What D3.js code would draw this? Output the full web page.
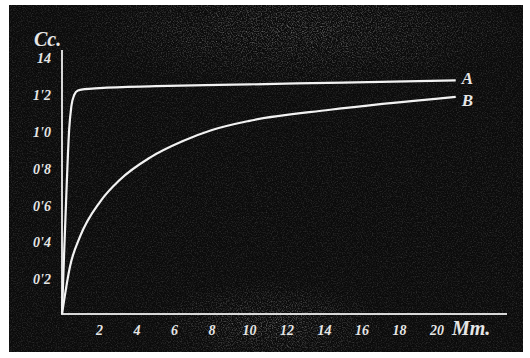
<!DOCTYPE html>
<html>
<head>
<meta charset="utf-8">
<script src="https://cdn.jsdelivr.net/npm/d3@7"></script>
<style>
  html, body { margin: 0; padding: 0; background: #fff; }
  svg { display: block; }
  .lbl { font-family: 'Liberation Serif', 'DejaVu Serif', serif; font-style: italic; font-weight: bold; fill: #e6e6e6; }
</style>
</head>
<body>
<div id="chart"></div>
<script>
// values (mm on x, cc on y)
const xTicks = [2, 4, 6, 8, 10, 12, 14, 16, 18, 20]
const yTicks = [0.2, 0.4, 0.6, 0.8, 1.0, 1.2, 1.4]
const yTickLabels = ["0'2", "0'4", "0'6", "0'8", "1'0", "1'2", "14"]

const curveAx = [0, 0.12, 0.25, 0.38, 0.5, 0.65, 0.85, 1.2, 2, 5, 10, 15, 21]
const curveAy = [0, 0.35, 0.7, 1.0, 1.13, 1.19, 1.215, 1.222, 1.228, 1.238, 1.248, 1.258, 1.27]
const curveBx = [0, 0.43, 0.96, 2.03, 3.09, 4.69, 6.45, 8, 10, 14.3, 21]
const curveBy = [0, 0.26, 0.42, 0.61, 0.73, 0.85, 0.94, 1.0, 1.05, 1.11, 1.18]

const W = 530, H = 358
const svg = d3.select('#chart').append('svg')
  .attr('width', W)
  .attr('height', H)

const defs = svg.append('defs')
const f = defs.append('filter').attr('id', 'grain')
  .attr('x', 0).attr('y', 0).attr('width', '100%').attr('height', '100%')
f.append('feTurbulence').attr('type', 'fractalNoise')
  .attr('baseFrequency', 0.8).attr('numOctaves', 2).attr('seed', 7)
f.append('feColorMatrix').attr('type', 'matrix')
  .attr('values', '0 0 0 0 1  0 0 0 0 1  0 0 0 0 1  1.6 0 0 0 -0.7')
f.append('feComposite').attr('in2', 'SourceGraphic').attr('operator', 'in')

const rg = defs.append('radialGradient').attr('id', 'spot')
  .attr('cx', 0.5).attr('cy', 0.5).attr('r', 0.5)
rg.append('stop').attr('offset', 0).attr('stop-color', '#fff').attr('stop-opacity', 1)
rg.append('stop').attr('offset', 1).attr('stop-color', '#fff').attr('stop-opacity', 0)

// plate
svg.append('rect')
  .attr('x', 9).attr('y', 5)
  .attr('width', 514).attr('height', 347)
  .attr('fill', '#0b0b0b')

// grain, heavier near the top and the bottom middle
const grain = svg.append('g').attr('filter', 'url(#grain)').attr('opacity', 0.6)
grain.append('rect').attr('x', 9).attr('y', 5).attr('width', 514).attr('height', 347)
  .attr('fill', '#fff').attr('opacity', 0.35)
grain.append('ellipse').attr('cx', 300).attr('cy', 30).attr('rx', 230).attr('ry', 60)
  .attr('fill', 'url(#spot)')
grain.append('ellipse').attr('cx', 270).attr('cy', 325).attr('rx', 120).attr('ry', 45)
  .attr('fill', 'url(#spot)')

const x = d3.scaleLinear().domain([0, 20]).range([62, 437])
const y = d3.scaleLinear().domain([0, 1.4]).range([314, 56.4])

// axes
svg.append('line')
  .attr('x1', x(0)).attr('x2', x(0))
  .attr('y1', y(0)).attr('y2', 50)
  .attr('stroke', '#d8d8d8').attr('stroke-width', 2)
svg.append('line')
  .attr('x1', x(0) - 1).attr('x2', 507)
  .attr('y1', y(0)).attr('y2', y(0))
  .attr('stroke', '#d8d8d8').attr('stroke-width', 2)

svg.selectAll('.xt')
  .data(xTicks)
  .enter()
  .append('text')
  .attr('class', 'lbl xt')
  .attr('x', d => x(d))
  .attr('y', 335)
  .attr('text-anchor', 'middle')
  .attr('font-size', 14)
  .text(d => d)

svg.append('text')
  .attr('class', 'lbl')
  .attr('x', x(20) + 15)
  .attr('y', 335)
  .attr('font-size', 20)
  .text('Mm.')

svg.selectAll('.yt')
  .data(yTicks)
  .enter()
  .append('text')
  .attr('class', 'lbl yt')
  .attr('x', 51)
  .attr('y', d => y(d) + 7)
  .attr('text-anchor', 'end')
  .attr('font-size', 14)
  .text((d, i) => yTickLabels[i])

svg.append('text')
  .attr('class', 'lbl')
  .attr('x', 34)
  .attr('y', 46)
  .attr('font-size', 20)
  .text('Cc.')

// curves
const line = d3.line()
  .x(d => x(d[0]))
  .y(d => y(d[1]))
  .curve(d3.curveMonotoneX)

const series = [
  { name: 'A', pts: d3.zip(curveAx, curveAy), dy: 4 },
  { name: 'B', pts: d3.zip(curveBx, curveBy), dy: 9 }
]

svg.selectAll('.curve')
  .data(series)
  .enter()
  .append('path')
  .attr('class', 'curve')
  .attr('d', d => line(d.pts))
  .attr('fill', 'none')
  .attr('stroke', '#f2f2f2')
  .attr('stroke-width', 2.2)

svg.selectAll('.name')
  .data(series)
  .enter()
  .append('text')
  .attr('class', 'lbl name')
  .attr('x', d => x(d.pts[d.pts.length - 1][0]) + 6)
  .attr('y', d => y(d.pts[d.pts.length - 1][1]) + d.dy)
  .attr('font-size', 17)
  .text(d => d.name)
</script>
</body>
</html>
